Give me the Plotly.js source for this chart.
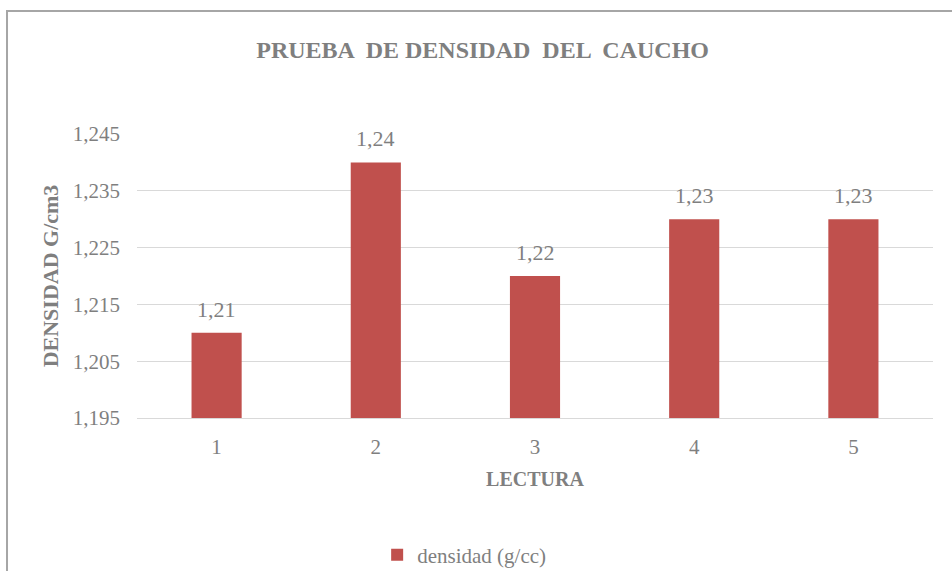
<!DOCTYPE html>
<html>
<head>
<meta charset="utf-8">
<script src="https://cdn.plot.ly/plotly-3.0.1.min.js"></script>
<style>
  html, body { margin: 0; padding: 0; background: #fff; }
  #chart { width: 952px; height: 571px; }
</style>
</head>
<body>
<div id="chart"></div>
<script>
// Data
var categories = ['1', '2', '3', '4', '5'];
var densidad = [1.21, 1.24, 1.22, 1.23, 1.23];
var seriesName = 'densidad (g/cc)';
var chartTitle = 'PRUEBA  DE DENSIDAD  DEL  CAUCHO';
var xTitle = 'LECTURA';
var yTitle = 'DENSIDAD G/cm3';

var serif = '"Liberation Serif", "DejaVu Serif", serif';
var gray = '#7f7f7f';

var trace = {
  type: 'bar',
  x: categories,
  y: densidad,
  name: seriesName,
  width: 0.315,
  marker: { color: '#c0504d' },
  showlegend: true,
  hoverinfo: 'x+y'
};

var annotations = categories.map(function (c, i) {
  return {
    x: i, y: densidad[i], xref: 'x', yref: 'y',
    text: densidad[i].toFixed(2).replace('.', ','),
    showarrow: false, yanchor: 'bottom', yshift: 9,
    font: { family: serif, size: 22, color: gray }
  };
});

var layout = {
  width: 952, height: 571,
  margin: { l: 137, r: 19, t: 134, b: 153, autoexpand: false },
  paper_bgcolor: '#fff', plot_bgcolor: '#fff',
  separators: ',.',
  title: {
    text: '<b>' + chartTitle + '</b>',
    font: { family: serif, size: 24, color: gray },
    x: 0.507, xanchor: 'center', y: 0.914, yanchor: 'middle'
  },
  xaxis: {
    type: 'category',
    showgrid: false, automargin: false,
    showline: true, linecolor: '#d9d9d9', linewidth: 1,
    ticks: '', ticklabelstandoff: 10,
    tickfont: { family: serif, size: 21, color: gray },
    title: { text: '<b>' + xTitle + '</b>', font: { family: serif, size: 20, color: gray }, standoff: 13 }
  },
  yaxis: {
    range: [1.195, 1.245], automargin: false,
    tick0: 1.195, dtick: 0.01, tickformat: '.3f',
    showgrid: true, gridcolor: '#d9d9d9', gridwidth: 1,
    zeroline: false, showline: false,
    ticks: '', ticklabelstandoff: 16,
    tickfont: { family: serif, size: 21, color: gray },
    title: { text: '<b>' + yTitle + '</b>', font: { family: serif, size: 22, color: gray }, standoff: 8 }
  },
  legend: {
    orientation: 'h', x: 0.411, xanchor: 'center', y: -0.483, yanchor: 'middle',
    font: { family: serif, size: 21, color: gray },
    itemwidth: 30
  },
  annotations: annotations,
  shapes: [{
    type: 'rect', xref: 'paper', yref: 'paper',
    x0: -0.1633, x1: 1.5, y0: -1.0, y1: 1.433,
    line: { color: '#a6a6a6', width: 2 }, fillcolor: 'rgba(0,0,0,0)', layer: 'below'
  }],
  bargap: 0.5
};

Plotly.newPlot('chart', [trace], layout, { displayModeBar: false, staticPlot: true });
</script>
</body>
</html>
